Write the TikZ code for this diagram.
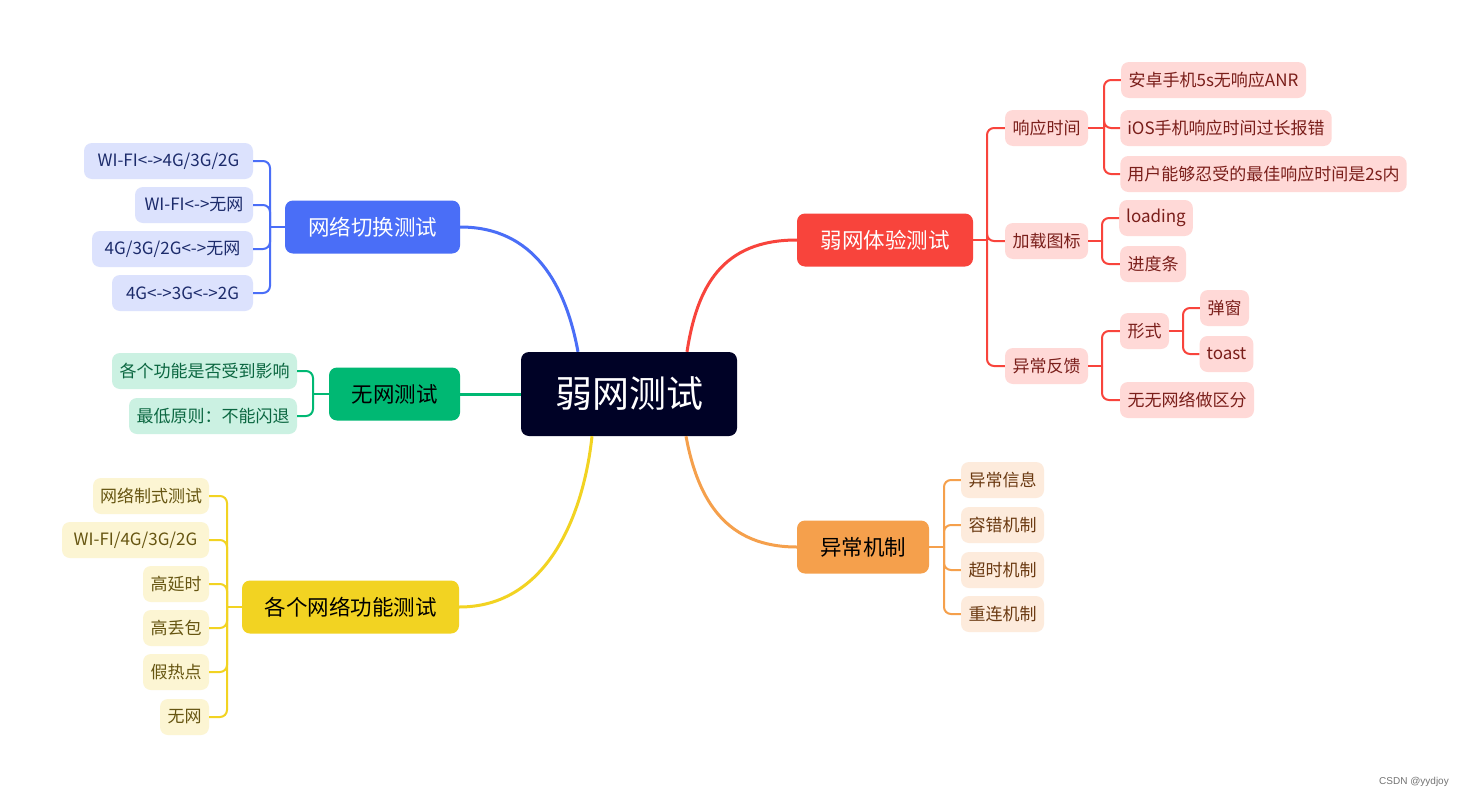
\documentclass[tikz,border=0pt]{standalone}
\usepackage{fontspec}
\setmainfont{Noto Sans CJK SC}
\newfontfamily\wmfont{Liberation Sans}
\usetikzlibrary{calc}
\definecolor{ctrc}{HTML}{000226}
\definecolor{blc}{HTML}{4A6EF7}
\definecolor{blf}{HTML}{DCE2FD}
\definecolor{blt}{HTML}{1C2B6B}
\definecolor{grc}{HTML}{00B873}
\definecolor{grf}{HTML}{CBF1E2}
\definecolor{grt}{HTML}{0A6640}
\definecolor{yec}{HTML}{F2D322}
\definecolor{yef}{HTML}{FCF5D3}
\definecolor{yet}{HTML}{665511}
\definecolor{rec}{HTML}{F8443C}
\definecolor{ref}{HTML}{FFD9D7}
\definecolor{ret}{HTML}{7A1E1A}
\definecolor{orc}{HTML}{F5A04C}
\definecolor{orf}{HTML}{FDEBDC}
\definecolor{ort}{HTML}{6B3A12}
\tikzset{
  mainbox/.style={rounded corners=8pt, minimum height=53pt, inner sep=0pt, font=\fontsize{21.5}{21.5}\selectfont},
  leaf/.style={rounded corners=8pt, minimum height=36pt, inner xsep=7pt, inner ysep=0pt, font=\fontsize{17}{17}\selectfont},
  bleaf/.style={leaf, fill=blf, text=blt},
  gleaf/.style={leaf, fill=grf, text=grt},
  yleaf/.style={leaf, fill=yef, text=yet},
  rleaf/.style={leaf, fill=ref, text=ret},
  oleaf/.style={leaf, fill=orf, text=ort},
  trunk/.style={line width=3pt},
  brk/.style={line width=2pt, rounded corners=7pt},
}
\begin{document}
\begin{tikzpicture}[x=1pt, y=-1pt]
\fill[white] (0,0) rectangle (1468,798);
\useasboundingbox (0,0) rectangle (1468,798);

% center
\node[rounded corners=8pt, fill=ctrc, text=white, minimum width=216pt, minimum height=84pt, inner sep=0pt, font=\fontsize{37}{37}\selectfont] (ctr) at (629,394) {弱网测试};

% main branches
\node[mainbox, fill=blc, text=white, minimum width=175pt] (nwqh) at (372.5,227) {网络切换测试};
\node[mainbox, fill=grc, text=black, minimum width=131pt] (wwcs) at (394.5,394) {无网测试};
\node[mainbox, fill=yec, text=black, minimum width=217pt] (gggn) at (350.5,607) {各个网络功能测试};
\node[mainbox, fill=rec, text=white, minimum width=176pt] (rwty) at (885,240) {弱网体验测试};
\node[mainbox, fill=orc, text=black, minimum width=132pt] (ycjz) at (863,547) {异常机制};

% trunks
\draw[trunk, blc] (nwqh.east) .. controls +(75,0) and +(-12,-65) .. ($(ctr.north)+(-51,0)$);
\draw[trunk, rec] ($(ctr.north)+(58,0)$) .. controls +(10,-65) and +(-75,0) .. (rwty.west);
\draw[trunk, yec] ($(ctr.south)+(-37,0)$) .. controls +(-8,75) and +(90,0) .. (gggn.east);
\draw[trunk, orc] ($(ctr.south)+(57,0)$) .. controls +(12,65) and +(-70,0) .. (ycjz.west);
\draw[trunk, grc] (wwcs.east) -- (ctr.west);

% blue leaves
\node[bleaf, minimum width=169pt] (b1) at (168.5,161) {WI-FI<->4G/3G/2G};
\node[bleaf, minimum width=118pt] (b2) at (194,205) {WI-FI<->无网};
\node[bleaf, minimum width=161pt] (b3) at (172.5,249) {4G/3G/2G<->无网};
\node[bleaf, minimum width=141pt] (b4) at (182.5,293) {4G<->3G<->2G};
\coordinate (bj) at (270,227);
\draw[brk, blc] (nwqh.west) -- (bj);
\foreach \c in {b1,b2,b3,b4} \draw[brk, blc] (bj) |- (\c.east);

% green leaves
\node[gleaf, minimum width=185pt] (g1) at (204.5,371) {各个功能是否受到影响};
\node[gleaf, minimum width=168pt] (g2) at (213,416) {最低原则：不能闪退};
\coordinate (gj) at (313,394);
\draw[brk, grc] (wwcs.west) -- (gj);
\foreach \c in {g1,g2} \draw[brk, grc] (gj) |- (\c.east);

% yellow leaves
\node[yleaf, minimum width=116pt] (y1) at (151,496) {网络制式测试};
\node[yleaf, minimum width=147pt] (y2) at (135.5,540) {WI-FI/4G/3G/2G};
\node[yleaf, minimum width=66pt] (y3) at (176,584) {高延时};
\node[yleaf, minimum width=66pt] (y4) at (176,628) {高丢包};
\node[yleaf, minimum width=66pt] (y5) at (176,672) {假热点};
\node[yleaf, minimum width=49pt] (y6) at (184.5,717) {无网};
\coordinate (yj) at (227,607);
\draw[brk, yec] (gggn.west) -- (yj);
\foreach \c in {y1,y2,y3,y4,y5,y6} \draw[brk, yec] (yj) |- (\c.east);

% red level 2
\node[rleaf, minimum width=83pt] (r1) at (1046.5,128) {响应时间};
\node[rleaf, minimum width=83pt] (r2) at (1046.5,241) {加载图标};
\node[rleaf, minimum width=83pt] (r3) at (1046.5,366) {异常反馈};
\coordinate (rj) at (987,240);
\draw[brk, rec] (rwty.east) -- (rj);
\foreach \c in {r1,r2,r3} \draw[brk, rec] (rj) |- (\c.west);

% red level 3
\node[rleaf, minimum width=185pt] (r11) at (1213.5,80) {安卓手机5s无响应ANR};
\node[rleaf, minimum width=210pt] (r12) at (1226,128) {iOS手机响应时间过长报错};
\node[rleaf, minimum width=285pt] (r13) at (1263.5,174) {用户能够忍受的最佳响应时间是2s内};
\coordinate (r1j) at (1104,128);
\draw[brk, rec] (r1.east) -- (r1j);
\foreach \c in {r11,r12,r13} \draw[brk, rec] (r1j) |- (\c.west);

\node[rleaf, minimum width=72pt] (r21) at (1156,218) {loading};
\node[rleaf, minimum width=66pt] (r22) at (1153,264) {进度条};
\coordinate (r2j) at (1102,241);
\draw[brk, rec] (r2.east) -- (r2j);
\foreach \c in {r21,r22} \draw[brk, rec] (r2j) |- (\c.west);

\node[rleaf, minimum width=49pt] (r31) at (1144.5,331) {形式};
\node[rleaf, minimum width=134pt] (r32) at (1187,400) {无无网络做区分};
\coordinate (r3j) at (1102,366);
\draw[brk, rec] (r3.east) -- (r3j);
\foreach \c in {r31,r32} \draw[brk, rec] (r3j) |- (\c.west);

\node[rleaf, minimum width=49pt] (r311) at (1224.5,308) {弹窗};
\node[rleaf, minimum width=53pt] (r312) at (1226.5,354) {toast};
\coordinate (r31j) at (1183,331);
\draw[brk, rec] (r31.east) -- (r31j);
\foreach \c in {r311,r312} \draw[brk, rec] (r31j) |- (\c.west);

% orange leaves
\node[oleaf, minimum width=83pt] (o1) at (1002.5,480) {异常信息};
\node[oleaf, minimum width=83pt] (o2) at (1002.5,525) {容错机制};
\node[oleaf, minimum width=83pt] (o3) at (1002.5,570) {超时机制};
\node[oleaf, minimum width=83pt] (o4) at (1002.5,614) {重连机制};
\coordinate (oj) at (944,547);
\draw[brk, orc] (ycjz.east) -- (oj);
\foreach \c in {o1,o2,o3,o4} \draw[brk, orc] (oj) |- (\c.west);

% watermark
\node[text=black!55, font=\wmfont\fontsize{10}{10}\selectfont, inner sep=0pt] (wm) at (1414,782) {CSDN @yydjoy};
\end{tikzpicture}
\end{document}
